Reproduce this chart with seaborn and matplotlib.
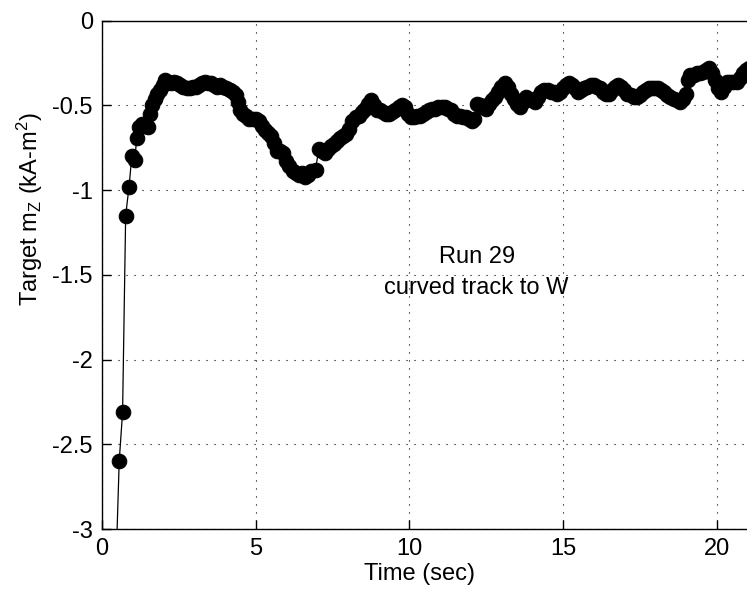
import matplotlib
matplotlib.use("Agg")
import matplotlib.pyplot as plt
import seaborn as sns
import pandas as pd

# Target vertical moment estimate for run 29
time_s = [
    0.45, 0.56, 0.67, 0.77, 0.88, 0.97, 1.07, 1.13, 1.21, 1.30,
    1.40, 1.51, 1.56, 1.64, 1.72, 1.80, 1.89, 1.97, 2.05, 2.15,
    2.25, 2.35, 2.45, 2.55, 2.65, 2.75, 2.85, 2.95, 3.05, 3.15,
    3.25, 3.35, 3.45, 3.55, 3.65, 3.75, 3.85, 3.95, 4.05, 4.15,
    4.25, 4.35, 4.42, 4.49, 4.60, 4.70, 4.80, 4.90, 5.00, 5.10,
    5.20, 5.30, 5.40, 5.50, 5.60, 5.68, 5.80, 5.90, 6.00, 6.10,
    6.20, 6.30, 6.40, 6.50, 6.60, 6.70, 6.80, 6.95, 7.05, 7.15,
    7.25, 7.35, 7.45, 7.55, 7.65, 7.75, 7.85, 7.95, 8.05, 8.15,
    8.25, 8.35, 8.45, 8.55, 8.65, 8.75, 8.85, 8.95, 9.05, 9.15,
    9.25, 9.35, 9.45, 9.55, 9.65, 9.75, 9.85, 9.95, 10.05, 10.15,
    10.25, 10.35, 10.45, 10.55, 10.65, 10.75, 10.85, 10.95, 11.05, 11.15,
    11.25, 11.35, 11.45, 11.55, 11.65, 11.75, 11.85, 11.95, 12.05, 12.12,
    12.19, 12.30, 12.40, 12.50, 12.60, 12.70, 12.80, 12.90, 13.00, 13.10,
    13.20, 13.30, 13.40, 13.50, 13.60, 13.70, 13.80, 13.90, 14.00, 14.10,
    14.20, 14.30, 14.40, 14.50, 14.60, 14.70, 14.80, 14.90, 15.00, 15.10,
    15.20, 15.30, 15.40, 15.50, 15.60, 15.70, 15.80, 15.90, 16.00, 16.10,
    16.20, 16.30, 16.40, 16.50, 16.60, 16.70, 16.80, 16.90, 17.00, 17.10,
    17.20, 17.30, 17.40, 17.50, 17.60, 17.70, 17.80, 17.90, 18.00, 18.10,
    18.20, 18.30, 18.40, 18.50, 18.60, 18.70, 18.80, 18.90, 19.00, 19.07,
    19.15, 19.25, 19.35, 19.45, 19.55, 19.65, 19.75, 19.85, 19.95, 20.05,
    20.15, 20.25, 20.35, 20.45, 20.55, 20.65, 20.75, 20.85, 20.95, 21.05,
]
mz_ka_m2 = [
    -3.25, -2.60, -2.31, -1.15, -0.98, -0.80, -0.82, -0.69, -0.63, -0.61,
    -0.62, -0.63, -0.55, -0.50, -0.46, -0.43, -0.41, -0.38, -0.35, -0.36,
    -0.37, -0.36, -0.37, -0.38, -0.39, -0.40, -0.40, -0.39, -0.39, -0.38,
    -0.37, -0.36, -0.37, -0.37, -0.38, -0.39, -0.38, -0.39, -0.40, -0.41,
    -0.42, -0.44, -0.48, -0.53, -0.55, -0.56, -0.58, -0.58, -0.58, -0.59,
    -0.62, -0.645, -0.66, -0.68, -0.72, -0.77, -0.77, -0.78, -0.83, -0.86,
    -0.89, -0.90, -0.91, -0.90, -0.92, -0.91, -0.89, -0.88, -0.76, -0.77,
    -0.78, -0.76, -0.74, -0.73, -0.71, -0.69, -0.68, -0.67, -0.64, -0.59,
    -0.57, -0.56, -0.54, -0.52, -0.49, -0.47, -0.50, -0.53, -0.53, -0.54,
    -0.55, -0.55, -0.54, -0.53, -0.51, -0.50, -0.51, -0.55, -0.57, -0.57,
    -0.56, -0.56, -0.55, -0.54, -0.53, -0.52, -0.52, -0.51, -0.51, -0.51,
    -0.52, -0.53, -0.55, -0.56, -0.56, -0.57, -0.57, -0.58, -0.59, -0.58,
    -0.49, -0.50, -0.51, -0.52, -0.49, -0.47, -0.45, -0.42, -0.39, -0.37,
    -0.39, -0.43, -0.46, -0.49, -0.51, -0.48, -0.45, -0.46, -0.47, -0.48,
    -0.45, -0.42, -0.41, -0.41, -0.42, -0.42, -0.43, -0.42, -0.40, -0.38,
    -0.37, -0.38, -0.40, -0.42, -0.41, -0.40, -0.39, -0.38, -0.38, -0.39,
    -0.40, -0.42, -0.43, -0.43, -0.41, -0.39, -0.38, -0.39, -0.41, -0.43,
    -0.44, -0.45, -0.45, -0.44, -0.42, -0.41, -0.40, -0.40, -0.40, -0.40,
    -0.41, -0.42, -0.44, -0.45, -0.46, -0.47, -0.48, -0.46, -0.43, -0.35,
    -0.32, -0.32, -0.31, -0.31, -0.30, -0.29, -0.28, -0.31, -0.35, -0.40,
    -0.42, -0.39, -0.36, -0.36, -0.36, -0.36, -0.34, -0.31, -0.29, -0.28,
]

x_ticks = [0, 5, 10, 15, 20]
x_tick_labels = ["0", "5", "10", "15", "20"]
y_ticks = [0, -0.5, -1, -1.5, -2, -2.5, -3]
y_tick_labels = ["0", "-0.5", "-1", "-1.5", "-2", "-2.5", "-3"]

sns.set_style("white")
plt.rcParams["font.family"] = ["Liberation Sans", "DejaVu Sans"]
plt.rcParams["mathtext.fontset"] = "custom"
plt.rcParams["mathtext.rm"] = "Liberation Sans"
plt.rcParams["mathtext.it"] = "Liberation Sans"
plt.rcParams["mathtext.default"] = "regular"

FS = 17

df = pd.DataFrame({"t": time_s, "mz": mz_ka_m2})

fig = plt.figure(figsize=(7.47, 6.05), dpi=100)
ax = fig.add_axes([102 / 747, 76 / 605, 676 / 747, 508.3 / 605])

sns.lineplot(data=df, x="t", y="mz", ax=ax, color="black", linewidth=0.9,
             marker="o", markersize=10.5, markeredgecolor="black",
             markerfacecolor="black", estimator=None, sort=False)

ax.set_xlim(0, 22)
ax.set_ylim(-3, 0)
ax.set_xticks(x_ticks)
ax.set_xticklabels(x_tick_labels)
ax.set_yticks(y_ticks)
ax.set_yticklabels(y_tick_labels)

ax.grid(True, color="black", linewidth=0.8, linestyle=(0, (1, 6.2)))
ax.set_axisbelow(True)

for side in ("left", "bottom", "top", "right"):
    ax.spines[side].set_color("black")
    ax.spines[side].set_linewidth(1.0)
    ax.spines[side].set_visible(True)

ax.tick_params(direction="in", length=6.5, width=1.0, color="black",
               labelsize=FS, labelcolor="black", pad=6.5,
               top=False, right=False, bottom=True, left=True)

ax.set_xlabel("")
ax.set_ylabel("")
fig.text(420 / 747, 1 - 574 / 605, "Time (sec)", ha="center", va="center",
         fontsize=FS, color="black")
fig.text(30 / 747, 1 - 209 / 605, "Target m$_Z$ (kA-m$^2$)", ha="center",
         va="center", rotation=90, fontsize=FS, color="black")

ax.text(12.19, -1.393, "Run 29", ha="center", va="center", fontsize=FS,
        color="black")
ax.text(12.19, -1.578, "curved track to W", ha="center", va="center",
        fontsize=FS, color="black")

fig.savefig("out.png", dpi=100, facecolor="white")
